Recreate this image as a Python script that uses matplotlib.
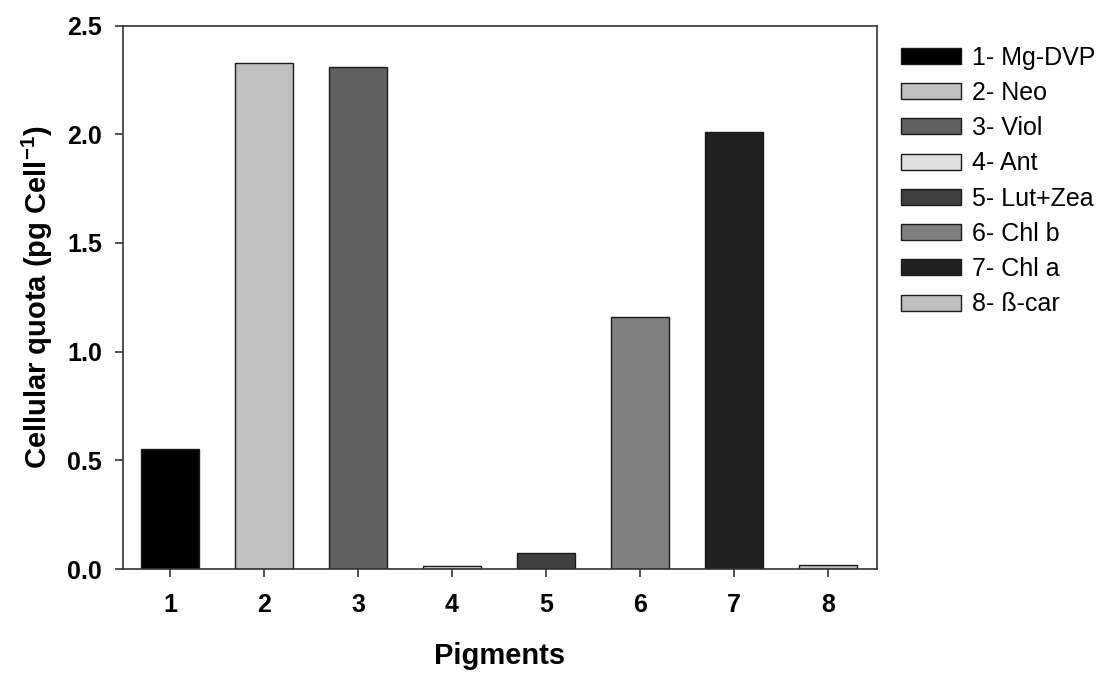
import matplotlib
matplotlib.use("Agg")
import matplotlib.pyplot as plt

# pigments and their cellular quota (pg cell^-1)
pigments = [1, 2, 3, 4, 5, 6, 7, 8]
quota = [0.55, 2.33, 2.31, 0.012, 0.072, 1.16, 2.01, 0.02]
names = ["1- Mg-DVP", "2- Neo", "3- Viol", "4- Ant", "5- Lut+Zea",
         "6- Chl b", "7- Chl a", "8- ß-car"]
fills = ["#000000", "#c0c0c0", "#606060", "#e0e0e0", "#404040",
         "#808080", "#202020", "#c0c0c0"]

plt.rcParams["font.family"] = ["Liberation Sans", "DejaVu Sans"]
plt.rcParams["mathtext.fontset"] = "custom"
plt.rcParams["mathtext.rm"] = "Liberation Sans:bold"
plt.rcParams["mathtext.bf"] = "Liberation Sans:bold"

fig = plt.figure(figsize=(11.04, 6.75), dpi=100)
ax = fig.add_axes([0.1114, 0.157, 0.683, 0.805])

bars = ax.bar(pigments, quota, width=0.61, color=fills,
              edgecolor="#1a1a1a", linewidth=1.0)
for b, n in zip(bars, names):
    b.set_label(n)

ax.set_xlim(0.5, 8.52)
ax.set_ylim(0, 2.5)
ax.set_xticks(pigments)
yt = [0.0, 0.5, 1.0, 1.5, 2.0, 2.5]
ax.set_yticks(yt)
ax.set_yticklabels([f"{v:.1f}" for v in yt])
ax.tick_params(axis="both", direction="out", length=6, width=1.2,
               labelsize=18, pad=9, color="#333333")
ax.tick_params(axis="x", pad=11)
for lab in ax.get_xticklabels() + ax.get_yticklabels():
    lab.set_fontweight("bold")
for s in ax.spines.values():
    s.set_linewidth(1.2)
    s.set_color("#333333")

ax.set_xlabel("Pigments", fontsize=21, fontweight="bold", labelpad=18)
ax.set_ylabel("Cellular quota (pg Cell$^{-1}$)", fontsize=21,
              fontweight="bold", labelpad=9)

ax.legend(handles=list(bars), loc="upper left", bbox_to_anchor=(1.005, 1.0),
          frameon=False, fontsize=18, handlelength=2.4, handleheight=0.62,
          handletextpad=0.45, labelspacing=0.45, borderaxespad=0.4)

fig.savefig("out.png", dpi=100, facecolor="white")
